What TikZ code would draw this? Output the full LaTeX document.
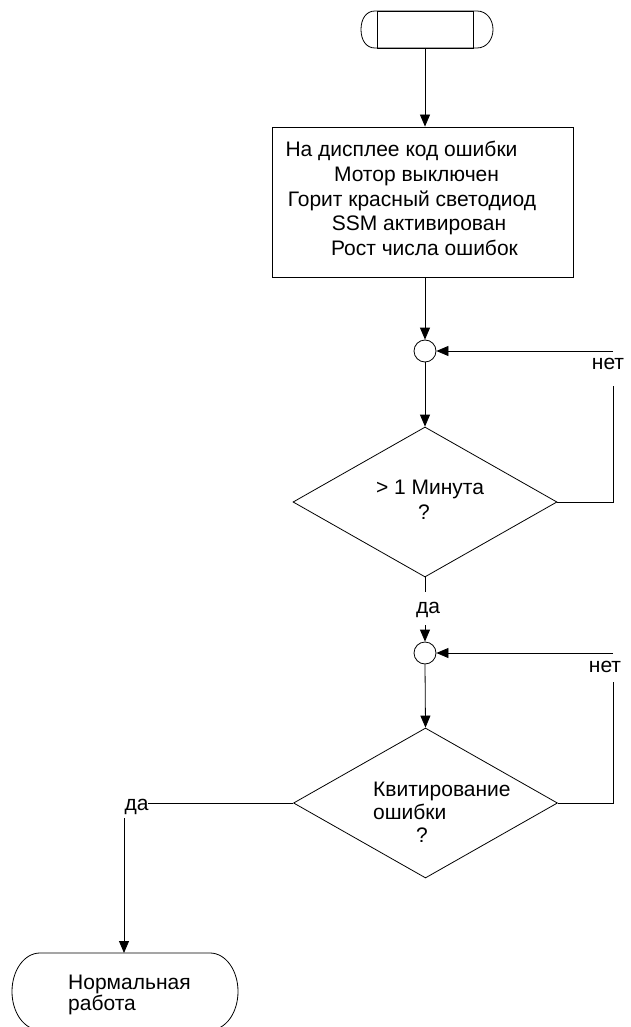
\documentclass[tikz,border=0pt]{standalone}
\usepackage{fontspec}
\setmainfont{Liberation Sans}
\usetikzlibrary{arrows.meta,shapes.geometric}
\begin{document}
\begin{tikzpicture}[x=1pt,y=-1pt,
  line/.style={draw=black,line width=0.8pt},
  arr/.style={line,-{Triangle[length=12pt,width=10pt]}},
  txt/.style={font=\fontsize{21}{24.5}\selectfont,inner sep=0pt},
  decision/.style={diamond,draw=black,line width=0.8pt,minimum width=264pt,minimum height=150pt,inner sep=0pt},
  junction/.style={circle,draw=black,line width=0.8pt,minimum size=22pt,inner sep=0pt},
  procbox/.style={rectangle,draw=black,line width=0.8pt,minimum width=301pt,minimum height=150pt,inner sep=0pt},
  termbar/.style={rectangle,draw=black,line width=0.8pt,minimum width=96pt,minimum height=37pt,inner sep=0pt}
]
\useasboundingbox (0,0) rectangle (630,1027);

% start terminator
\draw[line] (375,11) -- (477,11) .. controls (487,11) and (493,20) .. (493,29.5)
  .. controls (493,39) and (487,48) .. (477,48) -- (375,48)
  .. controls (366,48) and (361,40) .. (361,29.5) .. controls (361,19) and (366,11) .. (375,11) -- cycle;
\node[termbar] (start) at (425,29.5) {};

% process box
\node[procbox] (box) at (422.5,202) {};
\node[txt,anchor=base] (bt1) at (401.5,157) {На дисплее код ошибки};
\node[txt,anchor=base] (bt2) at (416.5,181.5) {Мотор выключен};
\node[txt,anchor=base] (bt3) at (412,206) {Горит красный светодиод};
\node[txt,anchor=base] (bt4) at (419,230.5) {SSM активирован};
\node[txt,anchor=base] (bt5) at (424.5,255) {Рост числа ошибок};

% junctions
\node[junction] (c1) at (425,351) {};
\node[junction] (c2) at (425,653) {};

% decisions
\node[decision] (d1) at (425,502) {};
\node[txt,anchor=base] (d1a) at (430,494) {> 1 Минута};
\node[txt,anchor=base] (d1b) at (424,519) {?};
\node[decision] (d2) at (425.5,803) {};
\node[txt,anchor=base west] (d2a) at (373,796) {Квитирование};
\node[txt,anchor=base west] (d2b) at (373,819.5) {ошибки};
\node[txt,anchor=base] (d2c) at (422,842) {?};

% end terminator
\draw[line] (40,953) -- (210,953) .. controls (225.5,953) and (238,970) .. (238,991.5)
  .. controls (238,1013) and (225.5,1030) .. (210,1030) -- (40,1030)
  .. controls (24.5,1030) and (12,1013) .. (12,991.5) .. controls (12,970) and (24.5,953) .. (40,953) -- cycle;
\node[txt,anchor=base west] (e1) at (68,989) {Нормальная};
\node[txt,anchor=base west] (e2) at (68,1010.5) {работа};
\coordinate (endtop) at (124,953);

% helper coordinates
\coordinate (nA) at (613,386);
\coordinate (nB) at (613,351);
\coordinate (nC) at (613,682);
\coordinate (nD) at (613,653);
\coordinate (y1) at (425,592);
\coordinate (y2) at (425,625);
\coordinate (yL1) at (148,803);
\coordinate (yL2) at (124,818);

% labels
\node[txt,anchor=base] (no1) at (608,369) {нет};
\node[txt,anchor=base] (no2) at (605,672) {нет};
\node[txt,anchor=base] (yes1) at (428,613) {да};
\node[txt,anchor=base] (yes2) at (136.5,810) {да};

% connectors
\draw[arr] (start.south) -- (start.south |- box.north);
\draw[arr] (box.south -| c1) -- (c1.north);
\draw[arr] (c1.south) -- (d1.north);
\draw[line] (d1.east) -- (d1.east -| nA) -- (nA);
\draw[arr] (nB) -- (c1.east);
\draw[line] (d1.south) -- (y1);
\draw[arr] (y2) -- (c2.north);
\draw[arr] (c2.south) -- (d2.north);
\draw[line] (d2.east) -- (d2.east -| nC) -- (nC);
\draw[arr] (nD) -- (c2.east);
\draw[line] (d2.west) -- (yL1);
\draw[arr] (yL2) -- (endtop);
\end{tikzpicture}
\end{document}
